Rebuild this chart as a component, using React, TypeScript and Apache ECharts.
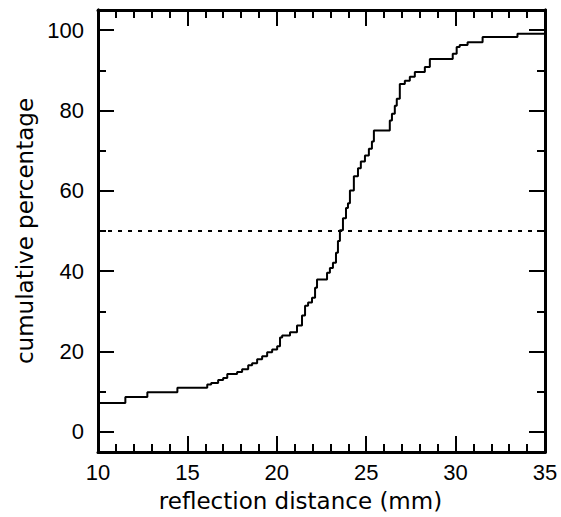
import React, { useEffect, useRef } from "react";
import * as echarts from "echarts";

// reflection distance (mm) where the cumulative percentage steps up
const distances = [
  10, 11.53, 12.76, 14.44, 16.11, 16.33, 16.72, 17.0, 17.23, 17.78, 18.06, 18.4, 18.62, 18.9,
  19.18, 19.46, 19.74, 20.02, 20.18, 20.3, 20.74, 21.13, 21.41, 21.58, 21.75, 21.97, 22.14,
  22.25, 22.81, 22.97, 23.14, 23.31, 23.42, 23.53, 23.7, 23.87, 23.98, 24.09, 24.31, 24.54,
  24.7, 24.93, 25.15, 25.32, 25.43, 26.32, 26.44, 26.6, 26.71, 26.88, 27.16, 27.44, 27.72,
  28.28, 28.56, 29.84, 30.06, 30.23, 30.67, 31.51, 33.46, 35,
];
// cumulative percentage after each step
const percentages = [
  7.2, 8.7, 9.9, 11.0, 11.8, 12.2, 12.9, 13.4, 14.4, 14.9, 15.6, 16.6, 17.1, 18.1,
  18.8, 19.8, 20.5, 21.3, 23.5, 24.0, 24.8, 26.5, 29.0, 31.4, 32.2, 33.4, 35.9,
  37.9, 39.6, 40.8, 42.1, 44.6, 47.5, 50.2, 53.2, 55.7, 56.9, 60.1, 63.6, 65.6,
  67.3, 68.8, 70.5, 72.3, 75.0, 77.5, 79.2, 81.2, 82.9, 86.6, 87.4, 88.4, 89.6,
  90.8, 92.8, 94.1, 95.8, 96.3, 97.0, 98.3, 99.1, 99.1,
];
const medianLevel = 50;
const yMajorTicks = [0, 20, 40, 60, 80, 100];
const yMinorTicks = [10, 30, 50, 70, 90];

const LABEL_FONT = "'Liberation Sans', Arial, sans-serif";
const NAME_FONT = "'DejaVu Sans', sans-serif";

export default function App() {
  const ref = useRef<HTMLDivElement>(null);
  useEffect(() => {
    if (!ref.current) return;
    const chart = echarts.init(ref.current, null, { renderer: "svg" });
    const black = "#000";
    const xBase = (pos: "bottom" | "top", labels: boolean) => ({
      type: "value",
      position: pos,
      min: 10,
      max: 35,
      interval: 5,
      axisLine: { show: true, onZero: false, lineStyle: { color: black, width: 3 } },
      axisTick: { show: true, inside: true, length: 16, lineStyle: { color: black, width: 2 } },
      minorTick: { show: true, splitNumber: 5, length: 8, lineStyle: { color: black, width: 2 } },
      axisLabel: { show: labels, color: black, fontSize: 22, fontFamily: LABEL_FONT, margin: 9 },
      splitLine: { show: false },
      minorSplitLine: { show: false },
      ...(labels
        ? {
            name: "reflection distance (mm)",
            nameLocation: "middle",
            nameGap: 37,
            nameTextStyle: {
              color: black,
              fontSize: 23,
              fontFamily: NAME_FONT,
              padding: [0, 42, 0, 0],
            },
          }
        : {}),
    });
    const yBase = (pos: "left" | "right", ticks: number[], len: number, labels: boolean) => ({
      type: "value",
      position: pos,
      min: -5,
      max: 105,
      axisLine: { show: true, onZero: false, lineStyle: { color: black, width: 3 } },
      axisTick: {
        show: true,
        inside: true,
        length: len,
        customValues: ticks,
        lineStyle: { color: black, width: 2 },
      },
      axisLabel: {
        show: labels,
        customValues: ticks,
        color: black,
        fontSize: 22,
        fontFamily: LABEL_FONT,
        margin: 14,
      },
      splitLine: { show: false },
      ...(labels
        ? {
            name: "cumulative percentage",
            nameLocation: "middle",
            nameGap: 62,
            nameRotate: 90,
            nameTextStyle: { color: black, fontSize: 23, fontFamily: NAME_FONT },
          }
        : {}),
    });
    const data = distances.map((d, i) => [d, percentages[i]]);
    chart.setOption({
      animation: false,
      backgroundColor: "#fff",
      grid: { left: 98, right: 16, top: 10, bottom: 61, containLabel: false },
      xAxis: [xBase("bottom", true), xBase("top", false)],
      yAxis: [
        yBase("left", yMajorTicks, 16, true),
        yBase("left", yMinorTicks, 8, false),
        yBase("right", yMajorTicks, 16, false),
        yBase("right", yMinorTicks, 8, false),
      ],
      series: [
        {
          type: "line",
          step: "end",
          data,
          showSymbol: false,
          xAxisIndex: 0,
          yAxisIndex: 0,
          lineStyle: { color: black, width: 2 },
          markLine: {
            silent: true,
            symbol: "none",
            label: { show: false },
            lineStyle: { color: black, width: 2, type: [4, 6] },
            data: [[{ coord: [10, medianLevel] }, { coord: [35, medianLevel] }]],
          },
        },
      ],
    });
    return () => chart.dispose();
  }, []);
  return (
    <div
      ref={ref}
      style={{ position: "absolute", left: 0, top: 0, width: 561, height: 517 }}
    />
  );
}
